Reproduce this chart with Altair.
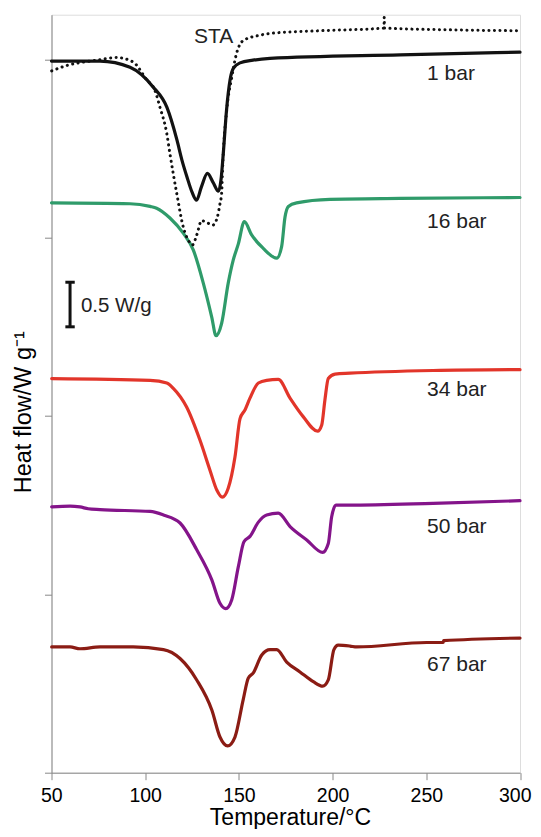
import altair as alt
import pandas as pd

# ---- data (Temperature in degC, heat flow in W/g, stacked with offsets) ----
T_1BAR = [50, 75.9, 91.9, 104.2, 111.6, 117.0, 119.6, 122.3, 125.0, 127.4, 130.0, 133.2, 136.2,
          139.1, 140.4, 141.8, 143.4, 145.3, 147.1, 150.6, 157.5, 166.6, 236.0, 300]
HF_1BAR = [7.98, 7.98, 7.91, 7.69, 7.46, 7.09, 6.87, 6.68, 6.51, 6.42, 6.57, 6.72, 6.62,
           6.52, 6.64, 6.98, 7.43, 7.77, 7.90, 7.96, 7.99, 8.01, 8.05, 8.08]

T_STA = [50.1, 58.1, 74.1, 84.8, 93.5, 100.8, 105.2, 107.9, 111.5, 113.2, 116.8, 120.3, 123.0,
         125.3, 127.5, 130.1, 133.7, 136.0, 138.5, 139.9, 140.8, 141.5, 143.5, 146.2, 148.8,
         152.3, 161.3, 166.6, 193.3, 227.4, 227.55, 227.7, 262.6, 300]
HF_STA = [7.87, 7.93, 7.99, 8.02, 7.97, 7.77, 7.65, 7.46, 7.17, 6.94, 6.50, 6.12, 5.97,
          5.92, 6.03, 6.19, 6.16, 6.14, 6.23, 6.38, 6.50, 6.87, 7.43, 7.80, 8.07,
          8.21, 8.27, 8.29, 8.32, 8.35, 8.47, 8.35, 8.33, 8.32]

T_16BAR = [50, 91.9, 102.6, 106.1, 113.2, 120.3, 125.7, 131.0, 135.5, 137.8, 140.8, 144.3, 147.0,
           149.7, 152.9, 156.8, 163.0, 170.2, 172.8, 174.6, 176.4, 180.8, 198.6, 236.0, 300]
HF_16BAR = [6.39, 6.38, 6.35, 6.33, 6.22, 6.05, 5.86, 5.49, 5.11, 4.90, 5.04, 5.49, 5.75,
            5.93, 6.18, 6.03, 5.88, 5.77, 5.90, 6.23, 6.35, 6.39, 6.43, 6.44, 6.45]

T_34BAR = [50.1, 102.6, 111.5, 115.0, 122.1, 129.2, 134.6, 138.2, 141.1, 144.3, 147.9, 150.6, 153.3,
           155.9, 160.4, 164.8, 171.0, 177.3, 184.4, 192.0, 194.2, 195.9, 197.7, 201.3, 209.3, 253.6, 300]
HF_34BAR = [4.42, 4.40, 4.37, 4.31, 4.10, 3.73, 3.39, 3.17, 3.09, 3.19, 3.54, 3.97, 4.07,
            4.20, 4.37, 4.40, 4.41, 4.20, 3.99, 3.83, 3.90, 4.18, 4.42, 4.47, 4.48, 4.51, 4.52]

T_50BAR = [50.1, 59.9, 65.2, 69.6, 75.9, 102.6, 109.7, 118.6, 127.5, 135.6, 139.9, 143.0, 146.2,
           149.7, 152.7, 155.9, 160.4, 164.8, 171.0, 177.3, 186.2, 194.7, 197.7, 199.5, 201.8,
           208.4, 253.6, 300]
HF_50BAR = [2.98, 2.99, 2.98, 2.96, 2.95, 2.93, 2.89, 2.80, 2.50, 2.16, 1.90, 1.84, 1.94,
            2.31, 2.59, 2.65, 2.81, 2.89, 2.91, 2.76, 2.61, 2.47, 2.57, 2.87, 3.00,
            3.00, 3.02, 3.05]

T_67BAR = [50.1, 59.9, 65.2, 75.9, 93.6, 109.7, 118.6, 127.5, 135.6, 139.9, 144.0, 147.9, 152.3,
           155.0, 157.7, 162.2, 166.6, 170.2, 175.5, 182.6, 189.7, 194.7, 197.7, 200.7, 203.0,
           209.3, 212.9, 250.2, 259.0, 259.3, 300]
HF_67BAR = [1.41, 1.41, 1.39, 1.41, 1.41, 1.38, 1.28, 1.04, 0.70, 0.40, 0.30, 0.40, 0.82,
            1.06, 1.12, 1.32, 1.38, 1.38, 1.24, 1.13, 1.02, 0.97, 1.04, 1.38, 1.43,
            1.42, 1.41, 1.46, 1.46, 1.48, 1.51]

SERIES_NAMES = ["1 bar", "16 bar", "34 bar", "50 bar", "67 bar"]
SERIES_COLORS = ["#121212", "#2f9b6a", "#e2352a", "#84148a", "#8b1c14"]

LABELS = ["STA", "1 bar", "16 bar", "34 bar", "50 bar", "67 bar"]
LABEL_T = [126.0, 250.4, 250.4, 250.4, 250.4, 250.4]
LABEL_HF = [8.245, 7.835, 6.18, 4.29, 2.75, 1.21]

X_TICKS = [50, 100, 150, 200, 250, 300]
Y_TICKS = [0, 2, 4, 6, 8]

SCALE_BAR_T = 59.9
SCALE_BAR_LOW = 5.0
SCALE_BAR_HIGH = 5.5
SCALE_BAR_TEXT = "0.5 W/g"

# ---- tables ----
rows = []
for name, ts, hs in zip(SERIES_NAMES,
                        [T_1BAR, T_16BAR, T_34BAR, T_50BAR, T_67BAR],
                        [HF_1BAR, HF_16BAR, HF_34BAR, HF_50BAR, HF_67BAR]):
    for i, (t, h) in enumerate(zip(ts, hs)):
        rows.append({"series": name, "T": t, "HF": h, "order": i})
df = pd.DataFrame(rows)
df_sta = pd.DataFrame({"T": T_STA, "HF": HF_STA, "order": list(range(len(T_STA)))})
df_lab = pd.DataFrame({"label": LABELS, "T": LABEL_T, "HF": LABEL_HF})

FONT = "Liberation Sans"

xs = alt.Scale(domain=[50, 300], nice=False, zero=False)
ys = alt.Scale(domain=[0, 8.5], nice=False, zero=False)

x_enc = alt.X("T:Q", scale=xs,
              axis=alt.Axis(values=X_TICKS, title="Temperature/°C", grid=False,
                            tickSize=7, labelPadding=7, labelFontSize=19.5,
                            labelFlush=True, labelFlushOffset=11, labelOverlap=False,
                            titleFontSize=23, titleFontWeight="normal",
                            titleX=238.5, titleY=52, titleBaseline="alphabetic",
                            titleAlign="center"))
y_enc = alt.Y("HF:Q", scale=ys,
              axis=alt.Axis(values=Y_TICKS, labels=False, title="Heat flow/W g⁻¹",
                            grid=False, tickSize=7, titleFontSize=23.5,
                            titleFontWeight="normal", titleAngle=270,
                            titleX=-21.5, titleY=397, titleBaseline="alphabetic",
                            titleAlign="center"))

lines = alt.Chart(df).mark_line(strokeWidth=3.2, interpolate="monotone",
                                strokeJoin="round", strokeCap="round").encode(
    x=x_enc, y=y_enc,
    color=alt.Color("series:N", scale=alt.Scale(domain=SERIES_NAMES, range=SERIES_COLORS),
                    legend=None),
    detail="series:N",
    order="order:Q",
)

sta = alt.Chart(df_sta).mark_line(strokeWidth=3.0, interpolate="monotone",
                                  strokeDash=[0.1, 5.4], strokeCap="round",
                                  color="#111111").encode(
    x="T:Q", y="HF:Q", order="order:Q")

labels = alt.Chart(df_lab).mark_text(align="left", baseline="middle", fontSize=21,
                                     font=FONT, color="#222222").encode(
    x="T:Q", y="HF:Q", text="label:N")

bar_df = pd.DataFrame({"T": [SCALE_BAR_T], "lo": [SCALE_BAR_LOW], "hi": [SCALE_BAR_HIGH]})
bar_v = alt.Chart(bar_df).mark_rule(strokeWidth=3, color="#111111").encode(
    x="T:Q", y="lo:Q", y2="hi:Q")
caps_df = pd.DataFrame({"T1": [SCALE_BAR_T - 2.5] * 2, "T2": [SCALE_BAR_T + 2.5] * 2,
                        "y": [SCALE_BAR_LOW, SCALE_BAR_HIGH]})
bar_caps = alt.Chart(caps_df).mark_rule(strokeWidth=3, color="#111111").encode(
    x="T1:Q", x2="T2:Q", y="y:Q")
bar_text = alt.Chart(pd.DataFrame({"T": [65.7], "HF": [5.232], "t": [SCALE_BAR_TEXT]})).mark_text(
    align="left", baseline="middle", fontSize=20.5, font=FONT, color="#222222").encode(
    x="T:Q", y="HF:Q", text="t:N")

chart = alt.layer(lines, sta, labels, bar_v, bar_caps, bar_text).properties(
    width=468.5, height=758,
    autosize=alt.AutoSizeParams(type="none"),
    padding={"left": 43.5, "top": 6.7, "right": 13, "bottom": 56.3},
).configure_view(stroke=None).configure_axis(
    domainColor="#111111", domainWidth=1.5, tickColor="#111111", tickWidth=1.5,
    labelColor="#222222", titleColor="#222222", labelFont=FONT, titleFont=FONT,
).configure(background="white")

chart.save("out.html", embed_options={"renderer": "svg", "actions": False})
